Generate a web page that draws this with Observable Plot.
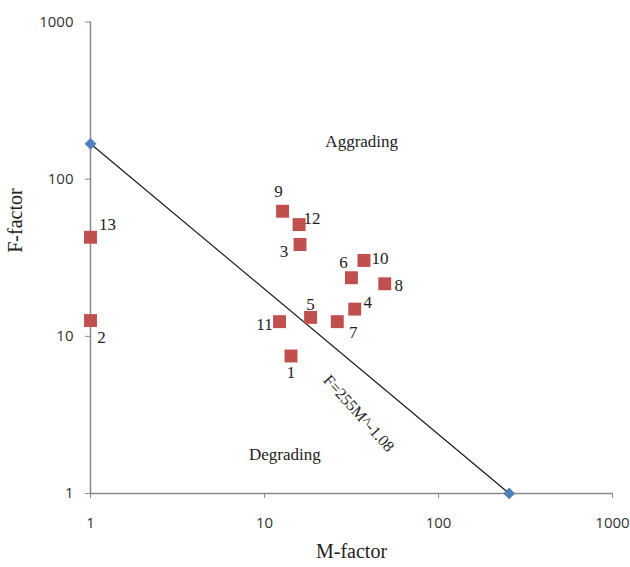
<!DOCTYPE html>
<html>
<head>
<meta charset="utf-8">
<script src="https://cdn.jsdelivr.net/npm/d3@7"></script>
<script src="https://cdn.jsdelivr.net/npm/@observablehq/plot@0.6"></script>
<style>
  html, body { margin: 0; padding: 0; background: #fff; }
  #chart svg { display: block; }
</style>
</head>
<body>
<div id="chart"></div>
<script>
// Site data
const sites   = ["1","2","3","4","5","6","7","8","9","10","11","12","13"];
const mFactor = [14.2, 1.0, 16.0, 33.0, 18.4, 31.6, 26.2, 49.1, 12.7, 37.3, 12.2, 15.8, 1.0];
const fFactor = [7.5, 12.6, 38.4, 14.9, 13.2, 23.6, 12.4, 21.6, 62.5, 30.4, 12.4, 51.4, 42.7];

// Boundary line F = 255 M^-1.08 (end points as drawn)
const lineM = [1, 255];
const lineF = [168, 1];

// Tick values
const ticks = [1, 10, 100, 1000];

// Annotations
const zoneText = ["Aggrading", "Degrading"];
const zoneM = [36.2, 13.1];
const zoneF = [173, 1.77];
const eqText = "F=255M^-1.08";
const eqM = 34.8, eqF = 3.23;

const points = sites.map((s, i) => ({site: s, M: mFactor[i], F: fFactor[i]}));
const line = lineM.map((m, i) => ({M: m, F: lineF[i]}));
const zones = zoneText.map((t, i) => ({text: t, M: zoneM[i], F: zoneF[i]}));

// label offsets (pixels) per site label
const labelOffset = {
  "1": [0, 17], "2": [11, 17], "3": [-16, 7], "4": [13, -7], "5": [0, -13],
  "6": [-8, -15], "7": [16, 11], "8": [14, 2], "9": [-4, -20], "10": [16, -2],
  "11": [-15, 3], "12": [13, -6], "13": [17, -13]
};

const serif = "'Liberation Serif', 'Times New Roman', serif";
const sans = "'Open Sans', 'Liberation Sans', sans-serif";

const labelMarks = points.map(p => Plot.text([p], {
  x: "M", y: "F", text: "site",
  dx: labelOffset[p.site][0], dy: labelOffset[p.site][1],
  fontFamily: serif, fontSize: 17, fill: "#222"
}));

const chart = Plot.plot({
  width: 630,
  height: 567,
  marginLeft: 90,
  marginRight: 18,
  marginTop: 21.5,
  marginBottom: 74,
  style: {background: "#fff"},
  x: {type: "log", domain: [1, 1000]},
  y: {type: "log", domain: [1, 1000]},
  marks: [
    Plot.axisX({ticks, tickFormat: d => String(d), tickSize: 5, tickPadding: 19,
      stroke: "#888", fill: "#333", fontFamily: sans, fontSize: 15, label: null}),
    Plot.axisY({ticks, tickFormat: d => String(d), tickSize: 5, tickPadding: 12,
      stroke: "#888", fill: "#333", fontFamily: sans, fontSize: 15, label: null}),
    Plot.ruleY([1], {stroke: "#888", strokeWidth: 1.5}),
    Plot.ruleX([1], {stroke: "#888", strokeWidth: 1.5}),
    Plot.line(line, {x: "M", y: "F", stroke: "#111", strokeWidth: 1.1}),
    Plot.dot(line, {x: "M", y: "F", symbol: "diamond2", r: 5, fill: "#4f81bd", stroke: "#3a6aa5", strokeWidth: 0.5}),
    Plot.dot(points, {x: "M", y: "F", symbol: "square", r: 7.3, fill: "#c0504d"}),
    ...labelMarks,
    Plot.text(zones, {x: "M", y: "F", text: "text", fontFamily: serif, fontSize: 17, fill: "#222"}),
    Plot.text([eqText], {x: () => eqM, y: () => eqF, text: d => d, rotate: 48,
      fontFamily: serif, fontSize: 16, fill: "#222"}),
    Plot.text(["M-factor"], {frameAnchor: "bottom", dy: 64, text: d => d,
      fontFamily: serif, fontSize: 20, fill: "#222"}),
    Plot.text(["F-factor"], {frameAnchor: "left", dx: -75, dy: -5, rotate: -90, text: d => d,
      fontFamily: serif, fontSize: 20, fill: "#222"})
  ]
});

document.getElementById("chart").appendChild(chart);
</script>
</body>
</html>
